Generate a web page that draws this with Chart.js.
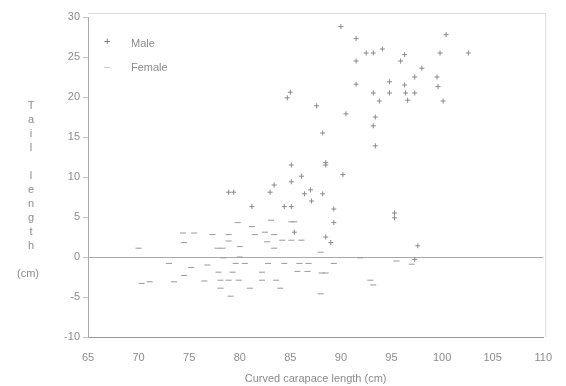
<!DOCTYPE html>
<html>
<head>
<meta charset="utf-8">
<script src="https://cdn.jsdelivr.net/npm/chart.js@4.4.0/dist/chart.umd.min.js"></script>
<style>
    body { margin: 0; background: #fff; }
    #wrap { position: relative; width: 566px; height: 386px; font-family: "Liberation Sans", Arial, sans-serif; color: #8c8c8c; }
    #ytitle { position: absolute; left: 18px; top: 98px; width: 26px; text-align: center; font-size: 11px; line-height: 14px; }
    #ytitle .unit { margin-top: 14px; margin-left: -6px; }
    .leg { position: absolute; font-size: 11px; }
</style>
</head>
<body>
<div id="wrap">
    <canvas id="tailChart" width="566" height="386"></canvas>
    <div id="ytitle">T<br>a<br>i<br>l<br>&nbsp;<br>l<br>e<br>n<br>g<br>t<br>h<div class="unit">(cm)</div></div>
    <div class="leg" style="left:104px; top:35px;"><span style="color:#777">+</span></div>
    <div class="leg" style="left:131px; top:37px;">Male</div>
    <div class="leg" style="left:104px; top:60px;"><span style="color:#bbb">–</span></div>
    <div class="leg" style="left:131px; top:61px;">Female</div>
</div>
<script>
// tick values
const xTicks = [65, 70, 75, 80, 85, 90, 95, 100, 105, 110];
const yTicks = [-10, -5, 0, 5, 10, 15, 20, 25, 30];

// males: curved carapace length (cm) / tail length (cm)
const maleLength = [90.0, 91.5, 92.5, 93.2, 94.1, 91.5, 96.3, 95.9, 100.4, 99.8, 102.6, 98.0, 97.3, 99.5, 99.6,
    94.8, 91.5, 93.2, 94.8, 96.3, 96.4, 97.3, 96.6, 93.8, 100.1, 87.6, 90.5, 93.4, 93.2, 88.2, 93.4, 88.5,
    85.0, 84.7, 85.1, 88.5, 86.1, 90.2, 85.1, 83.4, 83.0, 78.9, 79.4, 86.4, 87.0, 87.1, 88.2, 81.2, 84.4,
    85.1, 89.3, 95.3, 95.3, 89.3, 85.4, 88.5, 89.0, 97.6, 97.3];
const maleTail = [28.8, 27.3, 25.5, 25.5, 26.0, 24.5, 25.3, 24.5, 27.8, 25.5, 25.5, 23.6, 22.5, 22.5, 21.3,
    21.9, 21.6, 20.5, 20.5, 21.5, 20.5, 20.5, 19.6, 19.5, 19.5, 18.9, 17.9, 17.5, 16.4, 15.5, 13.9, 11.5,
    20.6, 19.9, 11.5, 11.8, 10.1, 10.3, 9.4, 9.0, 8.1, 8.1, 8.1, 7.9, 8.4, 7.0, 7.9, 6.3, 6.3,
    6.3, 6.0, 5.5, 4.9, 4.3, 3.1, 2.5, 1.8, 1.4, -0.3];

// females
const femaleLength = [83.1, 85.1, 85.4, 79.8, 81.2, 82.5, 81.5, 77.3, 78.9, 83.4, 74.4, 75.5, 78.9, 70.0, 74.5,
    77.8, 78.3, 80.0, 82.7, 84.2, 85.1, 86.1, 83.4, 88.0, 78.4, 80.0, 91.9, 73.0, 76.8, 79.6, 80.5, 75.2,
    82.8, 84.4, 85.9, 86.8, 89.3, 77.9, 79.3, 74.5, 82.2, 85.7, 86.7, 88.1, 88.5, 71.1, 70.3, 73.5, 76.5,
    78.1, 78.9, 79.9, 82.2, 83.6, 92.9, 93.2, 78.1, 81.0, 79.1, 84.0, 88.0, 97.0, 95.5];
const femaleTail = [4.6, 4.4, 4.4, 4.3, 3.8, 3.1, 2.8, 2.8, 2.8, 2.8, 3.0, 3.0, 2.0, 1.1, 1.8,
    1.1, 1.1, 1.3, 1.9, 2.1, 2.1, 2.1, 1.1, 0.6, -0.1, 0.0, -0.1, -0.8, -1.0, -0.8, -0.8, -1.3,
    -0.8, -0.8, -0.8, -0.8, -0.8, -1.9, -1.9, -2.3, -1.9, -1.8, -1.8, -2.0, -2.0, -3.1, -3.3, -3.1, -3.0,
    -2.9, -2.9, -2.9, -2.9, -2.9, -2.9, -3.5, -3.9, -3.9, -4.9, -3.9, -4.6, -0.9, -0.5];

function toPoints(xs, ys) {
    return xs.map((x, i) => ({ x: x, y: ys[i] }));
}

const framePlugin = {
    id: 'frame',
    beforeDatasetsDraw(chart) {
        const a = chart.chartArea;
        const c = chart.ctx;
        c.save();
        c.strokeStyle = '#dadada';
        c.lineWidth = 1;
        c.beginPath();
        c.moveTo(a.left, a.top - 3.5);
        c.lineTo(a.right + 2.5, a.top - 3.5);
        c.lineTo(a.right + 2.5, a.bottom);
        c.stroke();
        c.restore();
    }
};

document.addEventListener("DOMContentLoaded", function () {
    const ctx = document.getElementById('tailChart').getContext('2d');
    new Chart(ctx, {
        type: 'scatter',
        data: {
            datasets: [
                {
                    label: 'Male',
                    data: toPoints(maleLength, maleTail),
                    pointStyle: 'cross',
                    radius: 2.5,
                    borderColor: '#8a8a8a',
                    borderWidth: 1
                },
                {
                    label: 'Female',
                    data: toPoints(femaleLength, femaleTail),
                    pointStyle: 'line',
                    radius: 3,
                    borderColor: '#999',
                    borderWidth: 1
                }
            ]
        },
        options: {
            responsive: false,
            animation: false,
            layout: { padding: { top: 17, right: 15, left: 0, bottom: 0 } },
            plugins: {
                legend: { display: false },
                tooltip: { enabled: false }
            },
            scales: {
                x: {
                    min: 65,
                    max: 110,
                    afterBuildTicks: s => { s.ticks = xTicks.map(v => ({ value: v })); },
                    afterFit: s => { s.height = 49; },
                    grid: { display: false, drawTicks: false },
                    border: { color: '#999' },
                    ticks: { color: '#8c8c8c', padding: 14, font: { family: 'Liberation Sans', size: 11 } },
                    title: {
                        display: true,
                        text: 'Curved carapace length (cm)',
                        color: '#8c8c8c',
                        padding: { top: 1, bottom: 0 },
                        font: { family: 'Liberation Sans', size: 11 }
                    }
                },
                y: {
                    min: -10,
                    max: 30,
                    afterBuildTicks: s => { s.ticks = yTicks.map(v => ({ value: v })); },
                    afterFit: s => { s.width = 88; },
                    grid: {
                        drawOnChartArea: true,
                        tickLength: 5,
                        color: c => c.tick && c.tick.value === 0 ? '#aaa' : 'rgba(0,0,0,0)',
                        tickColor: '#c4c4c4'
                    },
                    border: { color: '#aaa' },
                    ticks: { color: '#8c8c8c', padding: 3, font: { family: 'Liberation Sans', size: 11 } }
                }
            }
        },
        plugins: [framePlugin]
    });
});
</script>
</body>
</html>
